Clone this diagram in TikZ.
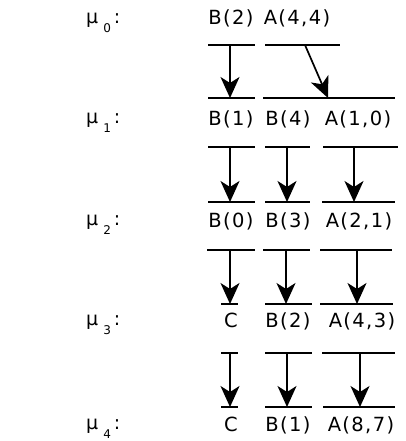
\documentclass[tikz,border=0pt]{standalone}
\usepackage{fontspec}
\setmainfont{DejaVu Sans}
\newfontfamily\lab[LetterSpace=7]{DejaVu Sans}
\usetikzlibrary{arrows.meta}
\tikzset{
  seg/.style={line width=1.8pt},
  arr/.style={line width=1.7pt,-{Stealth[length=21pt,width=19pt,inset=6pt]}},
  txt/.style={font=\lab\fontsize{19.5}{21}\selectfont,inner sep=0pt,anchor=base},
  mu/.style={font=\fontsize{19}{20}\selectfont,inner sep=0pt,anchor=base west}
}
\newcommand{\mulab}[1]{μ\hspace{5pt}\raisebox{-9pt}{\fontsize{12}{12}\selectfont #1}\hspace{3pt}:}
\begin{document}
\begin{tikzpicture}[x=1pt,y=-1pt]
\useasboundingbox (0,0) rectangle (406,441);
% mu labels
\node[mu] (m0) at (86,24) {\mulab{0}};
\node[mu] (m1) at (86,124) {\mulab{1}};
\node[mu] (m2) at (86,225) {\mulab{2}};
\node[mu] (m3) at (86,325) {\mulab{3}};
\node[mu] (m4) at (86,429) {\mulab{4}};
% row texts
\node[txt] (r0a) at (231,25) {B(2)};
\node[txt] (r0b) at (297,25) {A(4,4)};
\node[txt] (r1a) at (231,125) {B(1)};
\node[txt] (r1b) at (288,125) {B(4)};
\node[txt] (r1c) at (358,125) {A(1,0)};
\node[txt] (r2a) at (231,227) {B(0)};
\node[txt] (r2b) at (288,227) {B(3)};
\node[txt] (r2c) at (359,227) {A(2,1)};
\node[txt] (r3a) at (231,327) {C};
\node[txt] (r3b) at (288,327) {B(2)};
\node[txt] (r3c) at (362,327) {A(4,3)};
\node[txt] (r4a) at (231,431) {C};
\node[txt] (r4b) at (288,431) {B(1)};
\node[txt] (r4c) at (361,431) {A(8,7)};
% gap 0 -> 1
\draw[seg] (208,45) -- (255,45) (265,45) -- (340,45);
\draw[seg] (208,98) -- (255,98) (263,98) -- (395,98);
\coordinate (a0s) at (230,45); \coordinate (a0e) at (230,98);
\coordinate (b0s) at (305,45); \coordinate (b0e) at (328,98);
\draw[arr] (a0s) -- (a0e);
\draw[arr] (b0s) -- (b0e);
% gap 1 -> 2
\draw[seg] (208,147) -- (255,147) (265,147) -- (310,147) (323,147) -- (398,147);
\draw[seg] (208,202) -- (255,202) (265,202) -- (310,202) (322,202) -- (395,202);
\coordinate (a1s) at (230,147); \coordinate (a1e) at (230,202);
\coordinate (b1s) at (287,147); \coordinate (b1e) at (287,202);
\coordinate (c1s) at (354,147); \coordinate (c1e) at (354,202);
\draw[arr] (a1s) -- (a1e);
\draw[arr] (b1s) -- (b1e);
\draw[arr] (c1s) -- (c1e);
% gap 2 -> 3
\draw[seg] (207,250) -- (255,250) (263,250) -- (310,250) (320,250) -- (392,250);
\draw[seg] (221,304) -- (238,304) (265,304) -- (312,304) (320,304) -- (393,304);
\coordinate (a2s) at (230,250); \coordinate (a2e) at (230,304);
\coordinate (b2s) at (286,250); \coordinate (b2e) at (286,304);
\coordinate (c2s) at (357,250); \coordinate (c2e) at (357,304);
\draw[arr] (a2s) -- (a2e);
\draw[arr] (b2s) -- (b2e);
\draw[arr] (c2s) -- (c2e);
% gap 3 -> 4
\draw[seg] (221,353) -- (238,353) (265,353) -- (312,353) (322,353) -- (395,353);
\draw[seg] (221,407) -- (238,407) (265,407) -- (312,407) (323,407) -- (395,407);
\coordinate (a3s) at (230,353); \coordinate (a3e) at (230,407);
\coordinate (b3s) at (287,353); \coordinate (b3e) at (287,407);
\coordinate (c3s) at (360,353); \coordinate (c3e) at (360,407);
\draw[arr] (a3s) -- (a3e);
\draw[arr] (b3s) -- (b3e);
\draw[arr] (c3s) -- (c3e);
\end{tikzpicture}
\end{document}
